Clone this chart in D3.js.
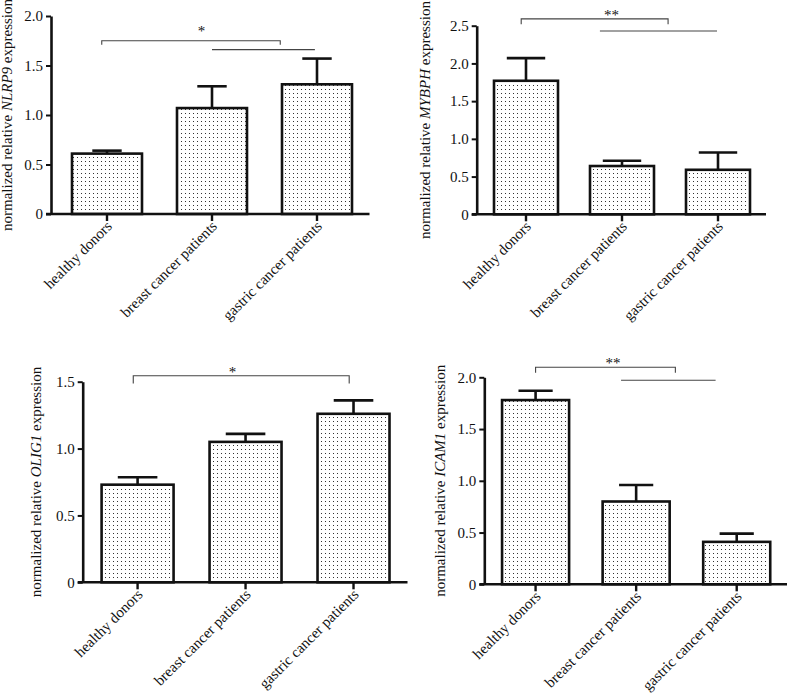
<!DOCTYPE html>
<html>
<head>
<meta charset="utf-8">
<script src="https://cdn.jsdelivr.net/npm/d3@7"></script>
<style>
  html, body { margin: 0; padding: 0; background: #fff; }
  svg { display: block; }
  text { font-family: "Liberation Serif", "Times New Roman", serif; fill: #111; }
</style>
</head>
<body>
<svg id="chart" width="789" height="697"></svg>
<script>
// ---------- data ----------
const categories = ["healthy donors", "breast cancer patients", "gastric cancer patients"];

const nlrp9Mean = [0.61, 1.07, 1.31];
const nlrp9Sem  = [0.03, 0.22, 0.26];

const mybphMean = [1.77, 0.64, 0.59];
const mybphSem  = [0.30, 0.07, 0.23];

const olig1Mean = [0.73, 1.05, 1.26];
const olig1Sem  = [0.055, 0.06, 0.10];

const icam1Mean = [1.78, 0.80, 0.41];
const icam1Sem  = [0.09, 0.16, 0.08];

const nlrp9Ticks = [0, 0.5, 1.0, 1.5, 2.0];
const mybphTicks = [0, 0.5, 1.0, 1.5, 2.0, 2.5];
const olig1Ticks = [0, 0.5, 1.0, 1.5];
const icam1Ticks = [0, 0.5, 1.0, 1.5, 2.0];

const geneNames = ["NLRP9", "MYBPH", "OLIG1", "ICAM1"];
const significanceMarks = ["*", "**", "*", "**"];

// ---------- layout ----------
const panels = [
  { gene: geneNames[0], mean: nlrp9Mean, sem: nlrp9Sem, ticks: nlrp9Ticks, star: significanceMarks[0],
    axisX: 51, y0: 214, yTop: 16, xr: [54.5, 369.5], titleX: 7, cap: 0.42,
    bracket: { f0: -0.05, f1: 1.65, y: 1.75, yTick: 1.71 },
    line2: { f0: 1.0, f1: 1.98, y: 1.66 }, starAt: { f: 0.9, y: 1.88 } },
  { gene: geneNames[1], mean: mybphMean, sem: mybphSem, ticks: mybphTicks, star: significanceMarks[1],
    axisX: 476.7, y0: 214.3, yTop: 25.7, xr: [478, 766], titleX: 424.5, cap: 0.6,
    bracket: { f0: -0.05, f1: 1.48, y: 2.59, yTick: 2.52 },
    line2: { f0: 0.77, f1: 1.99, y: 2.43 }, starAt: { f: 0.89, y: 2.69 } },
  { gene: geneNames[2], mean: olig1Mean, sem: olig1Sem, ticks: olig1Ticks, star: significanceMarks[2],
    axisX: 82.7, y0: 582.3, yTop: 381.7, xr: [83.6, 407.5], titleX: 35.5, cap: 0.55,
    bracket: { f0: -0.04, f1: 1.96, y: 1.544, yTick: 1.487 },
    line2: null, starAt: { f: 0.88, y: 1.60 } },
  { gene: geneNames[3], mean: icam1Mean, sem: icam1Sem, ticks: icam1Ticks, star: significanceMarks[3],
    axisX: 484.3, y0: 584.3, yTop: 377.3, xr: [485.3, 787], titleX: 440, cap: 0.51,
    bracket: { f0: 0.0, f1: 1.39, y: 2.097, yTick: 2.045 },
    line2: { f0: 0.85, f1: 1.79, y: 1.971 }, starAt: { f: 0.77, y: 2.17 } }
];

const svg = d3.select("#chart");
const defs = svg.append("defs");
const pat = defs.append("pattern").attr("id", "dots")
  .attr("patternUnits", "userSpaceOnUse").attr("width", 4).attr("height", 4);
pat.append("rect").attr("width", 4).attr("height", 4).attr("fill", "#fff");
pat.append("rect").attr("x", 1).attr("y", 1).attr("width", 1).attr("height", 1).attr("fill", "#333");

const fmt = v => v === 0 ? "0" : d3.format(".1f")(v);

panels.forEach(p => {
  const g = svg.append("g");
  const yMax = p.ticks[p.ticks.length - 1];
  const y = d3.scaleLinear().domain([0, yMax]).range([p.y0, p.yTop]);
  const x = d3.scaleBand().domain(categories).range(p.xr)
    .paddingInner(1/3).paddingOuter(1/6);
  const step = x.step();
  const cx = i => x(categories[i]) + x.bandwidth() / 2;
  const fx = f => cx(0) + f * step;

  // bars
  g.selectAll("rect.bar").data(categories).join("rect")
    .attr("class", "bar")
    .attr("x", d => x(d))
    .attr("y", (d, i) => y(p.mean[i]))
    .attr("width", x.bandwidth())
    .attr("height", (d, i) => p.y0 - y(p.mean[i]))
    .attr("fill", "url(#dots)")
    .attr("stroke", "#111").attr("stroke-width", 2.6);

  // error bars
  const capW = x.bandwidth() * p.cap;
  categories.forEach((c, i) => {
    const top = y(p.mean[i] + p.sem[i]);
    g.append("line").attr("x1", cx(i)).attr("x2", cx(i))
      .attr("y1", y(p.mean[i])).attr("y2", top)
      .attr("stroke", "#111").attr("stroke-width", 2.6);
    g.append("line").attr("x1", cx(i) - capW / 2).attr("x2", cx(i) + capW / 2)
      .attr("y1", top).attr("y2", top)
      .attr("stroke", "#111").attr("stroke-width", 2.6);
  });

  // y axis
  const yAxis = d3.axisLeft(y).tickValues(p.ticks).tickFormat(fmt)
    .tickSize(5).tickSizeOuter(0).tickPadding(3);
  const ya = g.append("g").attr("transform", `translate(${p.axisX},0)`).call(yAxis);
  ya.select(".domain").attr("stroke", "#111").attr("stroke-width", 2.6);
  ya.selectAll(".tick line").attr("stroke", "#111").attr("stroke-width", 2);
  ya.selectAll(".tick text").style("font-size", "15px").style("font-family", "'Liberation Serif', serif").attr("fill", "#111");

  // x axis
  const xAxis = d3.axisBottom(x).tickSize(7).tickSizeOuter(0).tickFormat("");
  const xa = g.append("g").attr("transform", `translate(0,${p.y0})`).call(xAxis);
  xa.select(".domain").remove();
  xa.selectAll(".tick line").attr("stroke", "#111").attr("stroke-width", 2.4);
  g.append("line").attr("x1", p.axisX - 5).attr("x2", p.xr[1])
    .attr("y1", p.y0).attr("y2", p.y0)
    .attr("stroke", "#111").attr("stroke-width", 2.6);

  // x labels rotated
  categories.forEach((c, i) => {
    g.append("text")
      .attr("transform", `translate(${cx(i) + 6},${p.y0 + 13}) rotate(-45)`)
      .attr("text-anchor", "end")
      .style("font-size", "15px")
      .text(c);
  });

  // y title
  const cy = (p.y0 + p.yTop) / 2;
  const t = g.append("text")
    .attr("transform", `translate(${p.titleX},${cy}) rotate(-90)`)
    .attr("text-anchor", "middle").attr("dy", "0.35em")
    .style("font-size", "15px");
  t.append("tspan").text("normalized relative ");
  t.append("tspan").style("font-style", "italic").text(p.gene);
  t.append("tspan").text(" expression");

  // significance
  const b = p.bracket;
  g.append("path")
    .attr("d", `M${fx(b.f0)},${y(b.yTick)}V${y(b.y)}H${fx(b.f1)}V${y(b.yTick)}`)
    .attr("fill", "none").attr("stroke", "#444").attr("stroke-width", 1.1);
  if (p.line2) {
    g.append("line").attr("x1", fx(p.line2.f0)).attr("x2", fx(p.line2.f1))
      .attr("y1", y(p.line2.y)).attr("y2", y(p.line2.y))
      .attr("stroke", "#444").attr("stroke-width", 1.1);
  }
  g.append("text").attr("x", fx(p.starAt.f)).attr("y", y(p.starAt.y))
    .attr("text-anchor", "middle").attr("dy", "0.55em")
    .style("font-size", "15px").attr("fill", "#555")
    .text(p.star);
});
</script>
</body>
</html>
